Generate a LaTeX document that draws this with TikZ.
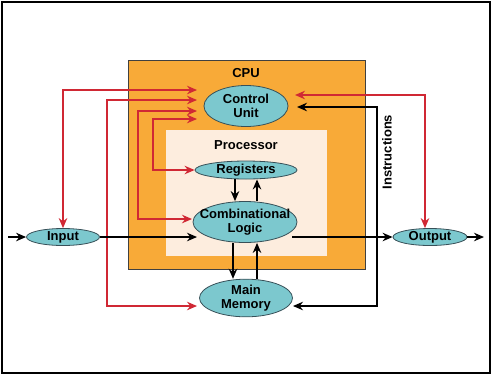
\documentclass[tikz,border=0pt]{standalone}
\usepackage{fontspec}
\setmainfont{Liberation Sans}
\usetikzlibrary{shapes.geometric,arrows.meta}
\definecolor{cpuorange}{RGB}{248,170,56}
\definecolor{procfill}{RGB}{253,237,222}
\definecolor{unitfill}{RGB}{124,200,206}
\definecolor{unitline}{RGB}{55,80,88}
\definecolor{sigred}{RGB}{208,40,52}

\begin{document}
\begin{tikzpicture}[x=1pt,y=-1pt,>={Stealth[length=10pt,width=8.5pt]},line width=1.4pt,
    font=\bfseries\fontsize{13}{14.5}\selectfont,
    unit/.style={draw=unitline,line width=0.8pt,fill=unitfill,ellipse,inner xsep=-10pt,inner ysep=0pt,align=center},
    ctrl/.style={draw=sigred,<->},
    data/.style={draw=black,->}]
        \useasboundingbox (0,0) rectangle (493,376);
        \draw[line width=2pt] (2,2) rectangle (490,373);
        % CPU and processor boxes
        \filldraw[fill=cpuorange,draw=black!75,line width=0.8pt] (128,60) rectangle (365,269);
        \fill[procfill] (166,130) rectangle (327,256);
        \node (cpulabel) at (246,73) {CPU};
        \node (proclabel) at (246,145) {Processor};
        % units
        \node (cu) [unit, minimum width=84, minimum height=41] at (246,106) {Control\\Unit};
        \node (reg) [unit, minimum width=102, minimum height=18] at (246,170) {Registers};
        \node (cl) [unit, minimum width=104, minimum height=41] at (245,222) {Combinational\\Logic};
        \node (mem) [unit, minimum width=93, minimum height=36] at (246,298) {Main\\Memory};
        \node (inp) [unit, minimum width=73, minimum height=17] at (63,237) {Input};
        \node (outp) [unit, minimum width=74, minimum height=17] at (430,237) {Output};
        \node (instr) [rotate=90] at (387,152) {Instructions};
        % connector ends
        \coordinate (src) at (8,237);
        \coordinate (sink) at (484,237);
        \coordinate (cua) at (197,90);
        \coordinate (cub) at (197,100);
        \coordinate (cuc) at (197,111);
        \coordinate (cud) at (197,119);
        \coordinate (cue) at (295,95);
        \coordinate (cuf) at (297,107);
        \coordinate (clin) at (197,237);
        \coordinate (clout) at (292,237);
        \coordinate (clred) at (192,219);
        \coordinate (memred) at (197,306);
        \coordinate (memblk) at (293,306);
        % control lines
        \draw[ctrl] (inp.north) |- (cua);
        \draw[ctrl] (cub) -- (107,100) -- (107,306) -- (memred);
        \draw[ctrl] (cuc) -- (138,111) -- (138,219) -- (clred);
        \draw[ctrl] (cud) -- (153,119) -- (153,170) -- (reg.west);
        \draw[ctrl] (cue) -| ([xshift=-5pt]outp.north);
        % data lines
        \draw[data] (src) -- (inp.west);
        \draw[data] (inp.east) -- (clin);
        \draw[data] (clout) -- (outp.west);
        \draw[data] (outp.east) -- (sink);
        \draw[data] ([xshift=-11pt]reg.south) -- ([xshift=-10pt]cl.north);
        \draw[data] ([xshift=12pt]cl.north) -- ([xshift=11pt]reg.south);
        \draw[data] ([xshift=-12pt]cl.south) -- ([xshift=-13pt]mem.north);
        \draw[data] ([xshift=11pt]mem.north) -- ([xshift=12pt]cl.south);
        \draw[<->] (cuf) -- (377,107) -- (377,306) -- (memblk);
    \end{tikzpicture}
\end{document}
